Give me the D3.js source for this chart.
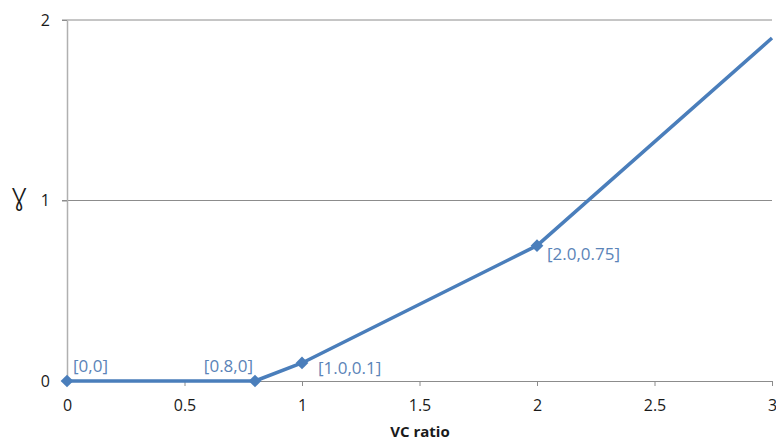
<!DOCTYPE html>
<html>
<head>
<meta charset="utf-8">
<script src="https://cdn.jsdelivr.net/npm/d3@7"></script>
<style>
  body { margin: 0; background: #fff; }
  svg { font-family: "Open Sans", "Noto Sans", sans-serif; }
</style>
</head>
<body>
<div id="chart"></div>
<script>
// values
const xValues = [0, 0.8, 1.0, 2.0, 3.0];
const yValues = [0, 0, 0.1, 0.75, 1.9];
const pointLabels = ["[0,0]", "[0.8,0]", "[1.0,0.1]", "[2.0,0.75]", ""];
const xTicks = [0, 0.5, 1, 1.5, 2, 2.5, 3];
const yTicks = [0, 1, 2];

const width = 776;
const height = 442;
const margin = { top: 20, right: 4, bottom: 61, left: 67 };

const svg = d3.select("#chart")
  .append("svg")
  .attr("width", width)
  .attr("height", height);

const xScale = d3.scaleLinear()
  .domain([0, 3])
  .range([margin.left, width - margin.right]);

const yScale = d3.scaleLinear()
  .domain([0, 2])
  .range([height - margin.bottom, margin.top]);

// horizontal gridlines
svg.append("g")
  .selectAll("line")
  .data(yTicks.filter(d => d > 0))
  .join("line")
  .attr("x1", margin.left - 5)
  .attr("x2", width - margin.right)
  .attr("y1", d => yScale(d))
  .attr("y2", d => yScale(d))
  .attr("stroke", "#8c8c8c")
  .attr("stroke-width", 1);

// x axis
const xAxis = d3.axisBottom(xScale)
  .tickValues(xTicks)
  .tickFormat(d3.format("~g"))
  .tickSizeInner(5)
  .tickSizeOuter(0);

const gx = svg.append("g")
  .attr("transform", `translate(0,${yScale(0)})`)
  .call(xAxis);
gx.select(".domain").attr("stroke", "#8c8c8c");
gx.selectAll(".tick line").attr("stroke", "#8c8c8c");
gx.selectAll(".tick text")
  .attr("font-size", 16)
  .attr("font-family", "Open Sans, sans-serif")
  .attr("fill", "#1a1a1a")
  .attr("dy", "1.4em");

// y axis
const yAxis = d3.axisLeft(yScale)
  .tickValues(yTicks)
  .tickFormat(d3.format("~g"))
  .tickSizeInner(5)
  .tickSizeOuter(0);

const gy = svg.append("g")
  .attr("transform", `translate(${margin.left},0)`)
  .call(yAxis);
gy.select(".domain").attr("stroke", "#b0b0b0").attr("stroke-width", 1.5);
gy.selectAll(".tick line").attr("stroke", "#8c8c8c");
gy.selectAll(".tick text")
  .attr("font-size", 16)
  .attr("font-family", "Open Sans, sans-serif")
  .attr("fill", "#1a1a1a")
  .attr("x", -17);

// line
const points = xValues.map((x, i) => ({ x, y: yValues[i], label: pointLabels[i] }));

const line = d3.line()
  .x(d => xScale(d.x))
  .y(d => yScale(d.y));

svg.append("path")
  .datum(points)
  .attr("fill", "none")
  .attr("stroke", "#4a7ebb")
  .attr("stroke-width", 3.5)
  .attr("stroke-linejoin", "round")
  .attr("d", line);

// diamond markers (not on the last point)
svg.append("g")
  .selectAll("path")
  .data(points.filter(d => d.label !== ""))
  .join("path")
  .attr("transform", d => `translate(${xScale(d.x)},${yScale(d.y)}) rotate(45)`)
  .attr("d", "M-4.5,-4.5H4.5V4.5H-4.5Z")
  .attr("fill", "#4a7ebb");

// data labels
const labelOffsets = [
  { dx: 6, dy: -9, anchor: "start" },
  { dx: -2, dy: -9, anchor: "end" },
  { dx: 16, dy: 11, anchor: "start" },
  { dx: 10, dy: 14, anchor: "start" }
];

svg.append("g")
  .selectAll("text")
  .data(points.filter(d => d.label !== ""))
  .join("text")
  .attr("x", (d, i) => xScale(d.x) + labelOffsets[i].dx)
  .attr("y", (d, i) => yScale(d.y) + labelOffsets[i].dy)
  .attr("text-anchor", (d, i) => labelOffsets[i].anchor)
  .attr("font-size", 17)
  .attr("fill", "#5b84b8")
  .text(d => d.label);

// axis titles
svg.append("text")
  .attr("x", 420)
  .attr("y", 437)
  .attr("text-anchor", "middle")
  .attr("font-size", 15)
  .attr("font-weight", "bold")
  .attr("fill", "#1a1a1a")
  .text("VC ratio");

svg.append("text")
  .attr("x", 19)
  .attr("y", 204)
  .attr("text-anchor", "middle")
  .attr("font-family", "Noto Sans, DejaVu Sans, sans-serif")
  .attr("font-size", 30)
  .attr("font-weight", 300)
  .attr("fill", "#1a1a1a")
  .text("ɣ");
</script>
</body>
</html>
